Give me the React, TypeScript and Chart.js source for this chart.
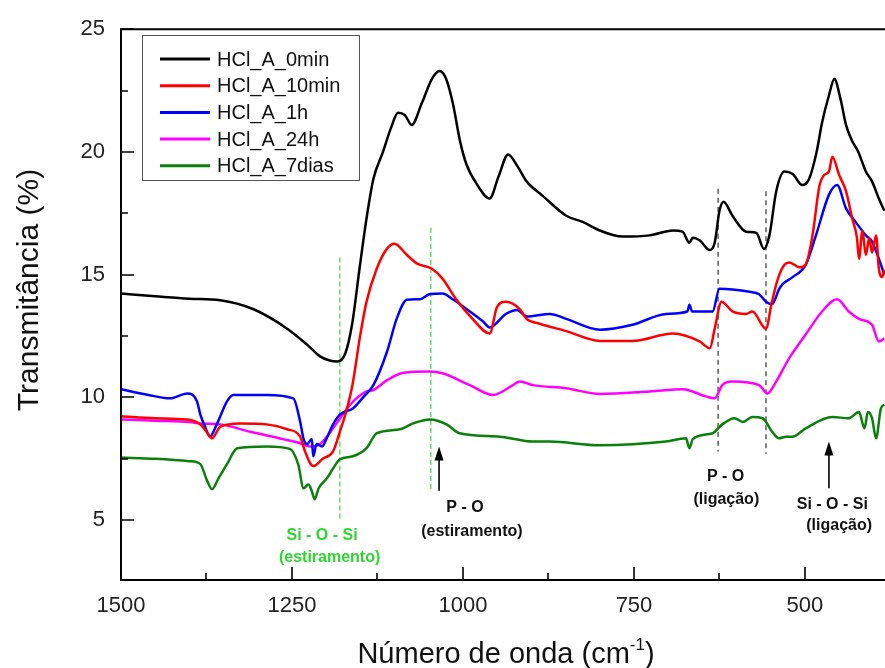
import React, { useEffect, useRef } from "react";
import { Chart, registerables } from "chart.js";
Chart.register(...registerables);

const FONT = "Arial, 'Liberation Sans', sans-serif";

const seriesNames = ["HCl_A_0min", "HCl_A_10min", "HCl_A_1h", "HCl_A_24h", "HCl_A_7dias"];
const seriesColors = ["#000000", "#ff0000", "#0000ff", "#ff00ff", "#0a800a"];

const wn0min = [1500,1450,1400,1355,1307,1257,1228,1209,1195,1184,1172,1162,1151,1141,1131,1117,1105,1095,1085,1075,1060,1045,1034,1025,1015,1004,995,980,961,948,934,920,907,883,849,825,800,767,727,693,679,669,664,654,639,632,625,619,606,586,571,560,552,542,530,518,504,494,483,475,465,457,448,440,432,422,411,402,392,384];
const t0min = [14.23,14.12,14.02,13.96,13.6,12.8,12.15,11.67,11.5,11.46,11.8,13.0,15.3,17.3,18.9,20.0,21.0,21.6,21.5,21.1,22.0,23.0,23.3,23.0,22.0,20.4,19.5,18.7,18.1,19.0,19.9,19.4,18.8,18.2,17.4,17.15,16.8,16.55,16.6,16.8,16.75,16.3,16.5,16.4,16.0,16.3,17.6,17.97,17.4,16.75,16.7,16.05,16.6,18.4,19.2,19.1,18.65,18.9,20.0,21.2,22.3,22.97,22.15,21.1,20.5,20.0,19.2,18.8,18.1,17.6];

const wn10min = [1500,1450,1403,1384,1375,1367,1355,1326,1287,1257,1238,1231,1219,1205,1190,1180,1170,1161,1151,1141,1126,1111,1100,1082,1067,1046,1030,1010,986,961,950,937,917,907,888,849,800,752,693,654,639,632,622,606,586,577,557,549,540,530,523,508,499,489,479,472,465,460,450,440,431,424,421,416,411,406,402,396,392,387,384];
const t10min = [9.23,9.15,9.1,8.9,8.6,8.33,8.8,8.94,8.9,8.7,8.4,7.8,7.2,7.5,7.8,8.6,9.5,10.6,12.4,13.9,15.25,16.06,16.26,15.8,15.45,15.25,14.84,14.0,13.2,12.6,13.7,13.9,13.6,13.2,13.0,12.7,12.3,12.3,12.6,12.28,12.0,12.8,13.9,13.5,13.4,13.5,12.8,13.8,14.8,15.4,15.5,15.3,15.4,16.6,18.6,19.06,19.2,19.8,19.06,18.4,17.3,16.5,15.65,16.8,15.8,16.5,15.9,16.6,15.25,14.9,15.2];

const wn1h = [1500,1460,1428,1403,1389,1384,1377,1370,1360,1345,1336,1287,1248,1238,1233,1228,1221,1219,1214,1206,1199,1190,1180,1161,1146,1131,1111,1097,1082,1063,1049,1030,1015,990,971,961,937,921,907,873,849,800,752,703,672,669,665,654,635,625,606,581,567,557,548,538,533,518,499,484,465,453,440,426,411,402,392,384];
const t1h = [10.33,10.1,9.96,10.16,9.84,9.3,8.8,8.4,8.9,9.84,10.1,10.1,9.96,9.0,8.3,8.1,8.3,7.6,8.1,8.0,8.35,8.9,9.3,9.55,10.0,10.5,11.87,13.2,13.98,14.0,14.2,14.23,14.0,13.5,13.1,12.85,13.4,13.56,13.3,13.4,13.2,12.76,12.96,13.4,13.5,13.77,13.5,13.5,13.5,14.43,14.4,14.3,14.2,13.9,13.8,14.4,14.6,14.9,15.4,16.6,18.25,18.65,17.7,17.15,16.6,16.35,15.65,15.0];

const wn24h = [1500,1450,1400,1384,1355,1311,1263,1238,1224,1209,1190,1165,1141,1131,1111,1087,1049,1030,990,956,927,917,898,849,800,727,679,645,632,621,606,567,555,542,523,499,475,453,436,421,402,392,384];
const t24h = [9.1,9.05,9.0,8.94,8.9,8.6,8.3,8.13,8.0,8.1,8.74,9.7,10.24,10.3,10.7,11.0,11.05,10.98,10.5,10.1,10.5,10.65,10.5,10.37,10.14,10.24,10.33,10.04,9.96,10.5,10.65,10.5,10.16,10.65,11.6,12.56,13.5,14.0,13.5,13.2,12.96,12.28,12.4];

const wn7dias = [1500,1450,1400,1384,1374,1367,1358,1345,1330,1287,1253,1241,1233,1226,1221,1217,1211,1199,1190,1180,1161,1141,1126,1092,1073,1048,1024,1005,946,898,873,800,703,674,669,664,635,621,603,591,577,562,548,538,528,518,499,460,436,421,413,408,402,396,389,384];
const t7dias = [7.55,7.5,7.4,7.28,6.6,6.26,6.67,7.28,7.93,8.0,7.9,7.28,6.3,6.45,6.18,5.85,6.3,6.7,7.1,7.48,7.6,7.93,8.54,8.7,8.94,9.1,8.9,8.54,8.4,8.2,8.2,8.05,8.2,8.33,7.93,8.3,8.54,8.9,9.15,9.0,9.2,9.15,8.6,8.33,8.4,8.4,8.74,9.2,9.15,9.4,8.74,9.4,9.15,8.33,9.55,9.7];

const seriesX = [wn0min, wn10min, wn1h, wn24h, wn7dias];
const seriesY = [t0min, t10min, t1h, t24h, t7dias];

const xTickValues = [1500, 1250, 1000, 750, 500];
const xMinorTicks = [1375, 1125, 875, 625];
const yTickValues = [5, 10, 15, 20, 25];
const yMinorTicks = [7.5, 12.5, 17.5, 22.5];

// annotation marks (data units)
const greenDashed = [
  { x: 1180, y1: 15.7, y2: 5.0 },
  { x: 1047, y1: 16.9, y2: 6.2 },
];
const grayDashed = [
  { x: 627, y1: 18.5, y2: 7.8 },
  { x: 557, y1: 18.4, y2: 7.7 },
];
const arrows = [
  { x: 1035, y1: 6.2, y2: 8.0 },
  { x: 465, y1: 6.3, y2: 8.2 },
];
const labels = [
  { text: "P - O", x: 997, y: 5.49, color: "#111111" },
  { text: "(estiramento)", x: 987, y: 4.55, color: "#111111" },
  { text: "Si - O - Si", x: 1206, y: 4.35, color: "#2fd62f" },
  { text: "(estiramento)", x: 1195, y: 3.46, color: "#2fd62f" },
  { text: "P - O", x: 616, y: 6.79, color: "#111111" },
  { text: "(ligação)", x: 615, y: 5.85, color: "#111111" },
  { text: "Si - O - Si", x: 460, y: 5.65, color: "#111111" },
  { text: "(ligação)", x: 450, y: 4.76, color: "#111111" },
];

const decorPlugin = {
  id: "decor",
  beforeDatasetsDraw(chart: any) {
    const { ctx, scales } = chart;
    const xs = scales.x, ys = scales.y;
    ctx.save();
    ctx.lineWidth = 1.3;
    ctx.setLineDash([5, 3]);
    ctx.strokeStyle = "#44e044";
    for (const l of greenDashed) {
      const px = xs.getPixelForValue(l.x);
      ctx.beginPath();
      ctx.moveTo(px, ys.getPixelForValue(l.y1));
      ctx.lineTo(px, ys.getPixelForValue(l.y2));
      ctx.stroke();
    }
    ctx.strokeStyle = "#666666";
    ctx.lineWidth = 1.6;
    ctx.setLineDash([5, 4]);
    for (const l of grayDashed) {
      const px = xs.getPixelForValue(l.x);
      ctx.beginPath();
      ctx.moveTo(px, ys.getPixelForValue(l.y1));
      ctx.lineTo(px, ys.getPixelForValue(l.y2));
      ctx.stroke();
    }
    ctx.restore();
  },
  afterDraw(chart: any) {
    const { ctx, chartArea: a, scales } = chart;
    const xs = scales.x, ys = scales.y;
    ctx.save();
    // frame
    ctx.strokeStyle = "#000";
    ctx.lineWidth = 2;
    ctx.setLineDash([]);
    ctx.beginPath();
    ctx.moveTo(a.right + 2, a.top);
    ctx.lineTo(a.left, a.top);
    ctx.lineTo(a.left, a.bottom);
    ctx.lineTo(a.right + 2, a.bottom);
    ctx.stroke();
    // ticks (inward)
    ctx.lineWidth = 1.6;
    ctx.beginPath();
    for (const v of xTickValues) {
      const p = Math.round(xs.getPixelForValue(v));
      ctx.moveTo(p, a.bottom); ctx.lineTo(p, a.bottom - 13);
    }
    for (const v of xMinorTicks) {
      const p = Math.round(xs.getPixelForValue(v));
      ctx.moveTo(p, a.bottom); ctx.lineTo(p, a.bottom - 7);
    }
    for (const v of yTickValues) {
      const p = Math.round(ys.getPixelForValue(v));
      ctx.moveTo(a.left, p); ctx.lineTo(a.left + 13, p);
    }
    for (const v of yMinorTicks) {
      const p = Math.round(ys.getPixelForValue(v));
      ctx.moveTo(a.left, p); ctx.lineTo(a.left + 7, p);
    }
    ctx.stroke();

    // arrows
    ctx.fillStyle = "#000";
    ctx.strokeStyle = "#000";
    ctx.lineWidth = 1.6;
    for (const ar of arrows) {
      const px = xs.getPixelForValue(ar.x);
      const yb = ys.getPixelForValue(ar.y1);
      const yt = ys.getPixelForValue(ar.y2);
      ctx.beginPath();
      ctx.moveTo(px, yb);
      ctx.lineTo(px, yt + 12);
      ctx.stroke();
      ctx.beginPath();
      ctx.moveTo(px, yt);
      ctx.lineTo(px - 4.5, yt + 14);
      ctx.lineTo(px + 4.5, yt + 14);
      ctx.closePath();
      ctx.fill();
    }
    // annotation labels
    ctx.font = `bold 16px ${FONT}`;
    ctx.textAlign = "center";
    ctx.textBaseline = "middle";
    for (const l of labels) {
      ctx.fillStyle = l.color;
      ctx.fillText(l.text, xs.getPixelForValue(l.x), ys.getPixelForValue(l.y));
    }

    // legend
    const lx = 142, ly = 35, lw = 217, lh = 145;
    ctx.fillStyle = "#fff";
    ctx.fillRect(lx, ly, lw, lh);
    ctx.strokeStyle = "#555";
    ctx.lineWidth = 1;
    ctx.strokeRect(lx + 0.5, ly + 0.5, lw, lh);
    ctx.font = `20px ${FONT}`;
    ctx.textAlign = "left";
    ctx.textBaseline = "middle";
    seriesNames.forEach((name, i) => {
      const y = 59 + i * 26.7;
      ctx.strokeStyle = seriesColors[i];
      ctx.lineWidth = 3;
      ctx.beginPath();
      ctx.moveTo(160, y);
      ctx.lineTo(210, y);
      ctx.stroke();
      ctx.fillStyle = "#111";
      ctx.fillText(name, 217, y + 1);
    });

    // x title with superscript
    ctx.fillStyle = "#111";
    ctx.textBaseline = "alphabetic";
    ctx.textAlign = "left";
    const big = `29px ${FONT}`;
    const small = `17px ${FONT}`;
    const p1 = "Número de onda (cm";
    const p2 = "-1";
    const p3 = ")";
    ctx.font = big;
    const w1 = ctx.measureText(p1).width;
    const w3 = ctx.measureText(p3).width;
    ctx.font = small;
    const w2 = ctx.measureText(p2).width;
    const total = w1 + w2 + w3;
    const cx = (a.left + a.right) / 2 + 3;
    const sx = cx - total / 2;
    const base = 663;
    ctx.font = big;
    ctx.fillText(p1, sx, base);
    ctx.font = small;
    ctx.fillText(p2, sx + w1, base - 13);
    ctx.font = big;
    ctx.fillText(p3, sx + w1 + w2, base);

    // y title
    ctx.save();
    ctx.translate(38, 290);
    ctx.rotate(-Math.PI / 2);
    ctx.font = `30px ${FONT}`;
    ctx.textAlign = "center";
    ctx.textBaseline = "alphabetic";
    ctx.fillText("Transmitância (%)", 0, 0);
    ctx.restore();

    ctx.restore();
  },
};

export default function App() {
  const ref = useRef<HTMLCanvasElement | null>(null);
  useEffect(() => {
    if (!ref.current) return;
    const datasets = seriesNames.map((name, i) => ({
      label: name,
      data: seriesX[i].map((x, j) => ({ x, y: seriesY[i][j] })),
      borderColor: seriesColors[i],
      backgroundColor: seriesColors[i],
      borderWidth: 2.5,
      pointRadius: 0,
      cubicInterpolationMode: "monotone" as const,
      fill: false,
    }));
    const chart = new Chart(ref.current, {
      type: "line",
      data: { datasets },
      options: {
        animation: false,
        responsive: false,
        maintainAspectRatio: false,
        layout: { padding: { top: 27, right: 0, left: 0, bottom: 0 } },
        plugins: { legend: { display: false }, tooltip: { enabled: false } },
        scales: {
          x: {
            type: "linear",
            reverse: true,
            min: 383,
            max: 1500,
            grid: { display: false, drawTicks: false },
            border: { display: false },
            ticks: {
              font: { family: FONT, size: 22 },
              color: "#222",
              padding: 13,
              maxRotation: 0,
              callback: (v: any) => String(v),
            },
            afterBuildTicks: (s: any) => { s.ticks = xTickValues.map((v) => ({ value: v })); },
            afterFit: (s: any) => { s.height = 88; },
          },
          y: {
            type: "linear",
            min: 2.56,
            max: 25,
            grid: { display: false, drawTicks: false },
            border: { display: false },
            ticks: {
              font: { family: FONT, size: 22 },
              color: "#222",
              padding: 16,
              callback: (v: any) => String(v),
            },
            afterBuildTicks: (s: any) => { s.ticks = yTickValues.map((v) => ({ value: v })); },
            afterFit: (s: any) => { s.width = 121; },
          },
        },
      },
      plugins: [decorPlugin],
    });
    return () => chart.destroy();
  }, []);
  return (
    <div style={{ position: "fixed", left: 0, top: 0, width: 885, height: 668, background: "#fff" }}>
      <canvas ref={ref} width={885} height={668} style={{ display: "block" }} />
    </div>
  );
}
